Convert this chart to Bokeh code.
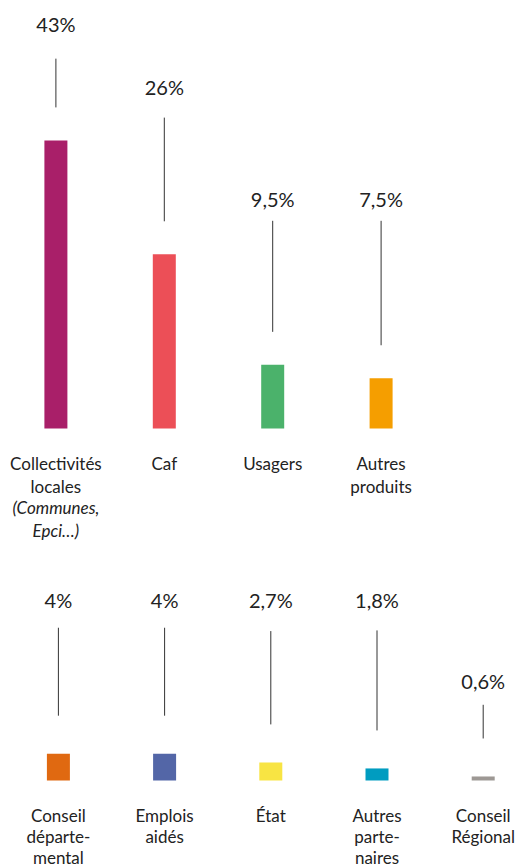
from bokeh.plotting import figure
from bokeh.models import Range1d, ColumnDataSource
from bokeh.layouts import column
from bokeh.embed import file_html
from bokeh.resources import INLINE
from bokeh.core.properties import value

# ---------------- data ----------------
top_categories = ["Collectivités\nlocales", "Caf", "Usagers", "Autres\nproduits"]
top_notes = ["(Communes,\nEpci…)", "", "", ""]
top_values = [43, 26, 9.5, 7.5]
top_labels = ["43%", "26%", "9,5%", "7,5%"]
top_colors = ["#A91F69", "#EC4F57", "#4BB26B", "#F59E00"]

bottom_categories = ["Conseil\ndéparte-\nmental", "Emplois\naidés", "État",
                     "Autres\nparte-\nnaires", "Conseil\nRégional"]
bottom_notes = ["", "", "", "", ""]
bottom_values = [4, 4, 2.7, 1.8, 0.6]
bottom_labels = ["4%", "4%", "2,7%", "1,8%", "0,6%"]
bottom_colors = ["#E06911", "#5366A7", "#F8E443", "#009CC0", "#9D9894"]

# ---------------- layout (in value units of each panel) ----------------
top_label_y = [60.3, 50.9, 34.3, 34.3]
top_line_top = [55.2, 46.4, 31.0, 31.0]
bottom_label_y = [26.9, 26.9, 26.9, 26.9, 14.9]
bottom_line_top = [22.8, 22.8, 22.3, 22.4, 11.3]

PX = 6.7          # pixels per percentage point
W = 520
FONT = "Lato"
INK = "#222222"
CAT_SIZE = 17
METRIC = 1.2      # natural line height of the font, in em


def panel(cats, notes, vals, labels, colors, label_y, line_top,
          height, baseline, x0, step, cat_top, line_px, gap):
    idx = list(range(len(cats)))
    src = ColumnDataSource(dict(
        x=idx, cat=cats, note=notes, val=vals, lab=labels, col=colors,
        ly=label_y, lt=line_top, lb=[v + gap / PX for v in vals],
    ))
    p = figure(width=W, height=height,
               x_range=Range1d(-x0 / step, (W - x0) / step),
               y_range=Range1d(-(height - baseline) / PX, baseline / PX),
               output_backend="svg", toolbar_location=None,
               x_axis_location=None, y_axis_location=None,
               min_border=0, background_fill_color="white",
               border_fill_color="white")
    p.grid.visible = False
    p.outline_line_color = None

    p.vbar(x="x", top="val", bottom=0, width=23 / step, fill_color="col",
           line_color=None, source=src)
    p.segment(x0="x", y0="lt", x1="x", y1="lb", line_color="#333333",
              line_width=1, source=src)
    p.text(x="x", y="ly", text="lab", source=src, text_align="center",
           text_baseline="middle", text_font=value(FONT),
           text_font_size="20px", text_color=INK)
    lh = line_px / (CAT_SIZE * METRIC)
    cy = -cat_top / PX
    p.text(x="x", y=cy, text="cat", source=src, text_align="center",
           text_baseline="top", text_font=value(FONT),
           text_font_size=f"{CAT_SIZE}px", text_color=INK,
           text_line_height=lh)
    p.text(x="x", y=cy - 2 * line_px / PX, text="note", source=src,
           text_align="center", text_baseline="top", text_font=value(FONT),
           text_font_size=f"{CAT_SIZE}px", text_font_style="italic",
           text_color=INK, text_line_height=lh)
    return p


p1 = panel(top_categories, top_notes, top_values, top_labels, top_colors,
           top_label_y, top_line_top, height=568, baseline=428,
           x0=55.4, step=108.4, cat_top=24.5, line_px=22, gap=33)
p2 = panel(bottom_categories, bottom_notes, bottom_values, bottom_labels,
           bottom_colors, bottom_label_y, bottom_line_top, height=300,
           baseline=212, x0=57.9, step=106.2, cat_top=24.5, line_px=20.5,
           gap=38)

layout = column(p1, p2, spacing=0)
open("out.html", "w").write(file_html(layout, INLINE))
